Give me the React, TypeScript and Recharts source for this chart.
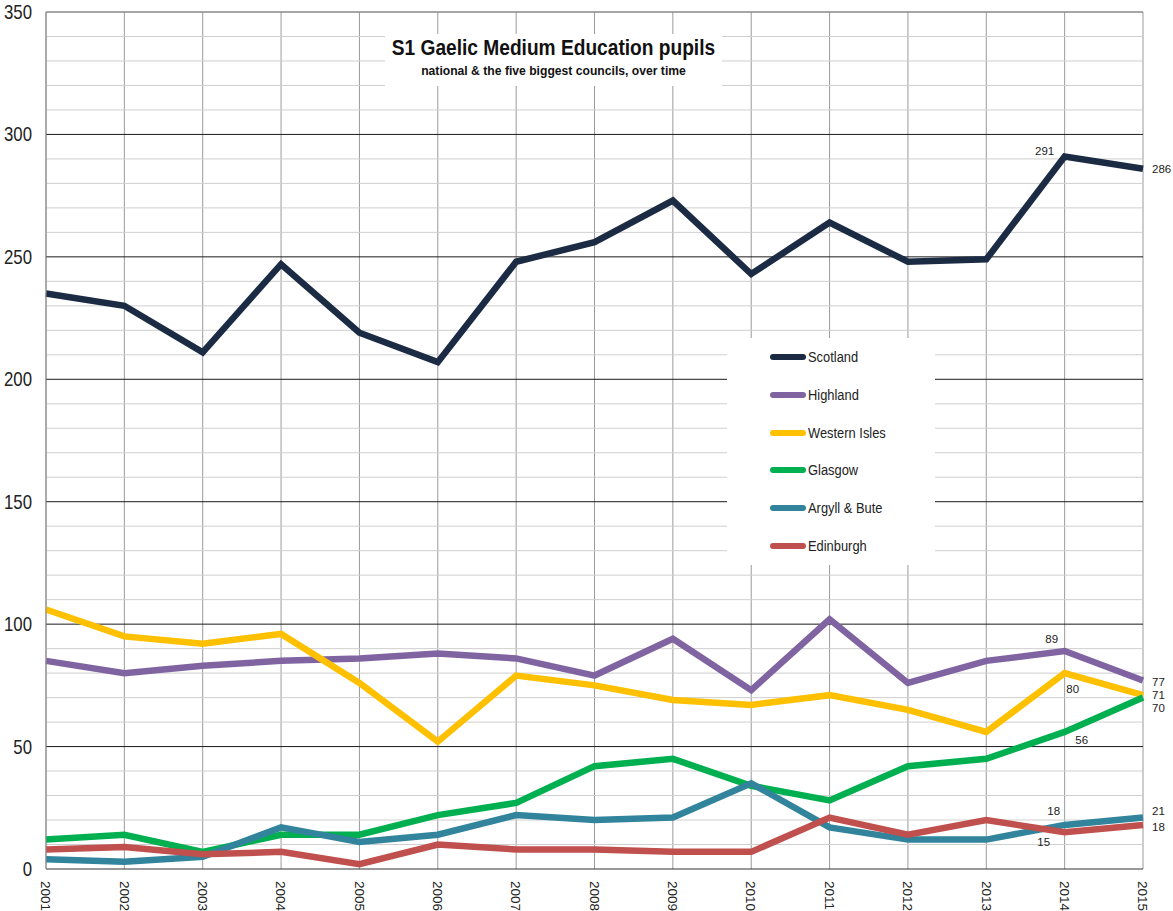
import React from "react";
import {
  LineChart, Line, XAxis, YAxis, CartesianGrid, ReferenceLine, LabelList,
} from "recharts";

if (typeof document !== "undefined") document.body.style.margin = "0";

const YEARS = [
  "2001", "2002", "2003", "2004", "2005", "2006", "2007", "2008",
  "2009", "2010", "2011", "2012", "2013", "2014", "2015",
];

const SCOTLAND = [235, 230, 211, 247, 219, 207, 248, 256, 273, 243, 264, 248, 249, 291, 286];
const HIGHLAND = [85, 80, 83, 85, 86, 88, 86, 79, 94, 73, 102, 76, 85, 89, 77];
const WESTERN_ISLES = [106, 95, 92, 96, 76, 52, 79, 75, 69, 67, 71, 65, 56, 80, 71];
const GLASGOW = [12, 14, 7, 14, 14, 22, 27, 42, 45, 34, 28, 42, 45, 56, 70];
const ARGYLL = [4, 3, 5, 17, 11, 14, 22, 20, 21, 35, 17, 12, 12, 18, 21];
const EDINBURGH = [8, 9, 6, 7, 2, 10, 8, 8, 7, 7, 21, 14, 20, 15, 18];

const Y_TICKS = [0, 50, 100, 150, 200, 250, 300, 350];
const MINOR_LINES = [10, 20, 30, 40, 60, 70, 80, 90, 110, 120, 130, 140, 160, 170, 180, 190,
  210, 220, 230, 240, 260, 270, 280, 290, 310, 320, 330, 340];
const MAJOR_LINES = [50, 100, 150, 200, 250, 300];

const SERIES = [
  { key: "Scotland", label: "Scotland", values: SCOTLAND, color: "#1b2b44" },
  { key: "Highland", label: "Highland", values: HIGHLAND, color: "#8064a2" },
  { key: "WesternIsles", label: "Western Isles", values: WESTERN_ISLES, color: "#ffc000" },
  { key: "Glasgow", label: "Glasgow", values: GLASGOW, color: "#00b050" },
  { key: "Argyll", label: "Argyll & Bute", values: ARGYLL, color: "#31849b" },
  { key: "Edinburgh", label: "Edinburgh", values: EDINBURGH, color: "#c0504d" },
];

const data = YEARS.map((year, i) => {
  const row: Record<string, string | number> = { year };
  SERIES.forEach((s) => { row[s.key] = s.values[i]; });
  return row;
});

// where the 2014 label sits relative to its point, and vertical nudge of the 2015 label
const LABEL_2014: Record<string, [number, number]> = {
  Scotland: [-20, -5],
  Highland: [-13, -12],
  WesternIsles: [8, 16],
  Glasgow: [17, 8],
  Argyll: [-11, -14],
  Edinburgh: [-21, 10],
};
const LABEL_2015_DY: Record<string, number> = {
  Scotland: 0, Highland: 2, WesternIsles: 0, Glasgow: 10, Argyll: -7, Edinburgh: 2,
};

const FONT = "'Liberation Sans', Arial, sans-serif";

function endLabels(key: string) {
  return (props: any) => {
    const { x, y, value, index } = props;
    if (index === 13) {
      const [dx, dy] = LABEL_2014[key];
      return (
        <text x={x + dx} y={y + dy} dy="0.35em" textAnchor="middle"
          fontSize={11.5} fill="#222" fontFamily={FONT}>{value}</text>
      );
    }
    if (index === 14) {
      return (
        <text x={x + 9} y={y + LABEL_2015_DY[key]} dy="0.35em" textAnchor="start"
          fontSize={11.5} fill="#222" fontFamily={FONT}>{value}</text>
      );
    }
    return null;
  };
}

function YearTick({ x, y, payload }: any) {
  return (
    <text transform={`translate(${x},${y + 4}) rotate(90)`} dy="0.35em" textAnchor="start"
      fontSize={13.5} fill="#222" fontFamily={FONT}>{payload.value}</text>
  );
}

function ValueTick({ x, y, payload }: any) {
  return (
    <text transform={`translate(${x},${y}) scale(0.84,1)`} dy="0.35em" textAnchor="end"
      fontSize={20} fill="#222" fontFamily={FONT}>{payload.value}</text>
  );
}

export default function App() {
  return (
    <div style={{ position: "relative", width: 1173, height: 911, background: "#fff", overflow: "hidden" }}>
      <LineChart width={1173} height={911} data={data}
        margin={{ top: 12, right: 30, bottom: 0, left: 0 }}>
        <CartesianGrid horizontal={false} stroke="#9a9a9a" />
        {MINOR_LINES.map((v) => (
          <ReferenceLine key={`mi${v}`} y={v} stroke="#cfcfcf" strokeWidth={1} />
        ))}
        {MAJOR_LINES.map((v) => (
          <ReferenceLine key={`ma${v}`} y={v} stroke="#1a1a1a" strokeWidth={1} />
        ))}
        <ReferenceLine y={350} stroke="#888" strokeWidth={1.5} />
        <XAxis dataKey="year" height={42} interval={0} tick={<YearTick />}
          tickLine={false} axisLine={{ stroke: "#333" }} />
        <YAxis width={46} domain={[0, 350]} ticks={Y_TICKS} interval={0}
          tickLine={false} axisLine={{ stroke: "#888" }} tickMargin={8}
          tick={<ValueTick />} />
        {SERIES.map((s) => (
          <Line key={s.key} dataKey={s.key} name={s.label} stroke={s.color}
            strokeWidth={6.5} strokeLinejoin="miter" dot={false}
            isAnimationActive={false} type="linear">
            <LabelList dataKey={s.key} content={endLabels(s.key)} />
          </Line>
        ))}
      </LineChart>

      <div style={{
        position: "absolute", left: 385, top: 34, width: 337, height: 52,
        background: "#fff", fontFamily: FONT, fontWeight: "bold", color: "#111",
      }}>
        <div style={{
          position: "absolute", left: -60, width: 457, top: 0, textAlign: "center",
          whiteSpace: "nowrap", fontSize: 22, lineHeight: "28px", transform: "scaleX(0.87)",
        }}>
          S1 Gaelic Medium Education pupils
        </div>
        <div style={{
          position: "absolute", left: -60, width: 457, top: 28, textAlign: "center",
          whiteSpace: "nowrap", fontSize: 13.5, lineHeight: "17px", transform: "scaleX(0.9)",
        }}>
          national &amp; the five biggest councils, over time
        </div>
      </div>

      <div style={{
        position: "absolute", left: 727, top: 338, width: 208, height: 227,
        background: "#fff", fontFamily: FONT, fontSize: 14, color: "#222",
      }}>
        {SERIES.map((s, i) => (
          <div key={s.key} style={{
            position: "absolute", left: 43, top: 10 + i * 37.8,
            display: "flex", alignItems: "center", height: 18, whiteSpace: "nowrap",
          }}>
            <span style={{
              display: "inline-block", width: 36, height: 6, borderRadius: 3,
              background: s.color, marginRight: 2,
            }} />
            <span style={{ display: "inline-block", transform: "scaleX(0.92)", transformOrigin: "left" }}>
              {s.label}
            </span>
          </div>
        ))}
      </div>
    </div>
  );
}
